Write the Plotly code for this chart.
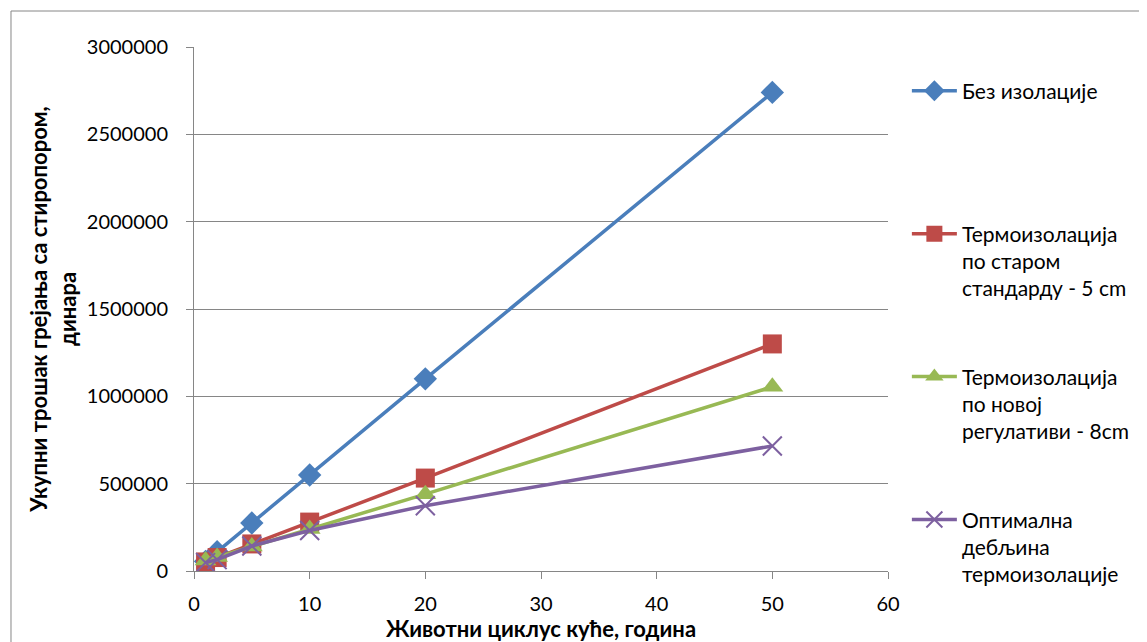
import plotly.graph_objects as go

years = [1, 2, 5, 10, 20, 50]
bez_izolacije = [55000, 110000, 275000, 550000, 1100000, 2740000]
staro_5cm = [52000, 77000, 155000, 280000, 532000, 1300000]
novo_8cm = [60000, 80000, 140000, 240000, 440000, 1055000]
optimalna = [48000, 65000, 143000, 232000, 374000, 716000]

names = [
    "Без изолације<br> <br> ",
    "Термоизолација<br>по старом<br>стандарду - 5 cm",
    "Термоизолација<br>по новој<br>регулативи - 8cm",
    "Оптимална<br>дебљина<br>термоизолације",
]
colors = ["#4A7EBB", "#BE4B48", "#98B954", "#7D60A0"]
symbols = ["diamond", "square", "triangle-up", "x-thin-open"]
sizes = [18, 19, 19, 19]
series = [bez_izolacije, staro_5cm, novo_8cm, optimalna]

fig = go.Figure()
for i, (nm, col, sym, sz, ys) in enumerate(zip(names, colors, symbols, sizes, series)):
    marker = dict(symbol=sym, size=sz, color=col)
    if sym == "x-thin-open":
        marker["line"] = dict(color=col, width=2)
    fig.add_trace(go.Scatter(
        x=years, y=ys, name=nm, mode="lines+markers",
        line=dict(color=col, width=3.5), marker=marker,
        legendgroup=f"g{i}",
    ))

font_family = "Lato, 'Open Sans', sans-serif"
fig.update_layout(
    width=1147, height=642,
    margin=dict(l=186, r=267, t=39, b=79, autoexpand=False),
    paper_bgcolor="white", plot_bgcolor="white",
    font=dict(family=font_family, size=20, color="#000000"),
    showlegend=True,
    legend=dict(
        x=1.0272, y=0.955, xanchor="left", yanchor="top",
        valign="top", tracegroupgap=58, itemwidth=45,
        maxheight=640,
        font=dict(size=21, family=font_family),
        bgcolor="rgba(0,0,0,0)",
    ),
    xaxis=dict(
        range=[0, 60], tickvals=[0, 10, 20, 30, 40, 50, 60],
        showgrid=False, showline=True, linecolor="#868686", linewidth=1,
        ticks="outside", ticklen=7, tickcolor="#868686",
        ticklabelstandoff=8,
        zeroline=False, automargin=False,
        title=dict(text="<b>Животни циклус куће, година</b>", font=dict(size=22), standoff=2),
    ),
    yaxis=dict(
        range=[0, 3000000], tickvals=[0, 500000, 1000000, 1500000, 2000000, 2500000, 3000000],
        tickformat="d",
        showgrid=True, gridcolor="#868686", gridwidth=1,
        showline=True, linecolor="#868686", linewidth=1,
        ticks="outside", ticklen=7, tickcolor="#868686",
        ticklabelstandoff=14,
        zeroline=False, automargin=False,
        title=dict(text="<b>Укупни трошак грејања са стиропором,<br>динара</b>", font=dict(size=22), standoff=4),
    ),
    shapes=[dict(
        type="rect", xref="paper", yref="paper",
        x0=-0.2637, x1=1.4, y0=-0.2, y1=1.0687,
        line=dict(color="#868686", width=1), fillcolor="rgba(0,0,0,0)", layer="below",
    )],
)

fig.write_html("out.html")
